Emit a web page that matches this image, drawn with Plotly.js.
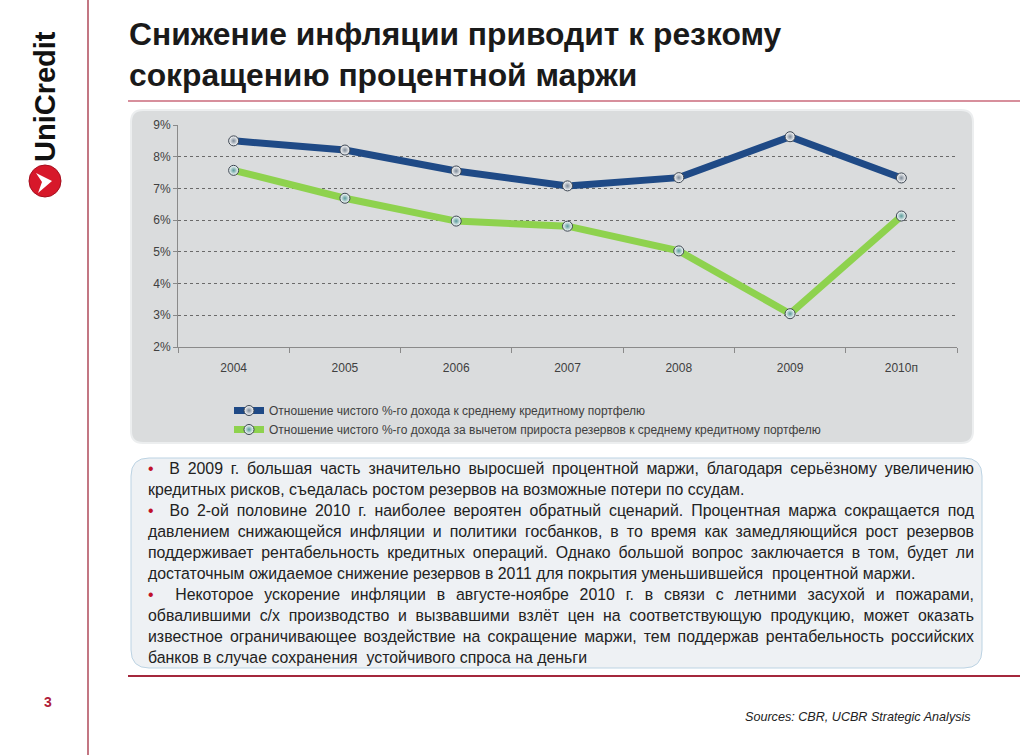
<!DOCTYPE html>
<html><head><meta charset="utf-8">
<script src="https://cdn.plot.ly/plotly-3.0.1.min.js"></script>
<style>
html,body{margin:0;padding:0;background:#fff;overflow:hidden;}
#wrap{position:relative;width:1020px;height:755px;overflow:hidden;}
#chart{position:absolute;left:0;top:0;width:1020px;height:755px;}
#notes{position:absolute;left:148px;top:458px;width:826px;font-family:'Liberation Sans Narrow','Liberation Sans',Arial,sans-serif;font-size:14px;line-height:21px;color:#222;}
#notes span{display:block;white-space:nowrap;}
#notes span.j{text-align:justify;text-align-last:justify;}
#notes b{color:#c0102a;font-weight:normal;}
#meas{position:absolute;left:0;top:0;visibility:hidden;white-space:nowrap;font-family:'Liberation Sans Narrow','Liberation Sans',Arial,sans-serif;font-size:100px;}
</style></head>
<body><div id="wrap"><div id="chart"></div>
<div id="notes">
<span class="j"><b>•</b>&nbsp; В 2009 г. большая часть значительно выросшей процентной маржи, благодаря серьёзному увеличению</span>
<span id="l2">кредитных рисков, съедалась ростом резервов на возможные потери по ссудам.</span>
<span class="j"><b>•</b>&nbsp; Во 2-ой половине 2010 г. наиболее вероятен обратный сценарий. Процентная маржа сокращается под</span>
<span class="j">давлением снижающейся инфляции и политики госбанков, в то время как замедляющийся рост резервов</span>
<span class="j">поддерживает рентабельность кредитных операций. Однако большой вопрос заключается в том, будет ли</span>
<span>достаточным ожидаемое снижение резервов в 2011 для покрытия уменьшившейся &nbsp;процентной маржи.</span>
<span class="j"><b>•</b>&nbsp; Некоторое ускорение инфляции в августе-ноябре 2010 г. в связи с летними засухой и пожарами,</span>
<span class="j">обвалившими с/х производство и вызвавшими взлёт цен на соответствующую продукцию, может оказать</span>
<span class="j" id="l9">известное ограничивающее воздействие на сокращение маржи, тем поддержав рентабельность российских</span>
<span>банков в случае сохранения &nbsp;устойчивого спроса на деньги</span>
</div>
<span id="meas"></span>
</div>
<script>
const years = ['2004','2005','2006','2007','2008','2009','2010п'];
const nimToLoans = [8.50, 8.21, 7.55, 7.08, 7.34, 8.63, 7.33];
const nimNetOfProvisions = [7.57, 6.69, 5.97, 5.81, 5.03, 3.05, 6.13];
const seriesNames = [
  'Отношение чистого %-го дохода к среднему кредитному портфелю',
  'Отношение чистого %-го дохода за вычетом прироста резервов к среднему кредитному портфелю'
];

// fit the note text so that its line breaks match the slide
(function fitNotes(){
  const m = document.getElementById('meas');
  m.textContent = document.getElementById('l2').textContent;
  const w2 = m.getBoundingClientRect().width;
  m.textContent = document.getElementById('l9').textContent;
  const w9 = m.getBoundingClientRect().width;
  const fs = Math.min(597 / w2, 815 / w9) * 100;
  document.getElementById('notes').style.fontSize = fs.toFixed(2) + 'px';
  m.textContent = '';
})();

const W = 1020, H = 755;
const px = x => x / W, py = y => 1 - y / H;
function rrect(x0, y0, x1, y1, r) {
  const rx = r / W, ry = r / H;
  const a = px(x0), b = px(x1), t = py(y0), u = py(y1);
  return `M${a+rx},${t} L${b-rx},${t} Q${b},${t} ${b},${t-ry} L${b},${u+ry} Q${b},${u} ${b-rx},${u} L${a+rx},${u} Q${a},${u} ${a},${u+ry} L${a},${t-ry} Q${a},${t} ${a+rx},${t} Z`;
}

const narrow = "'Liberation Sans Narrow', 'Arial Narrow', sans-serif";
const markerStyle = {symbol: 'circle', size: 10, color: '#ffffff', gradient: {type: 'radial', color: '#7d8a98'}, line: {color: '#3a4450', width: 1}};

const traces = [
  {x: years, y: nimToLoans, name: seriesNames[0], type: 'scatter', mode: 'lines+markers',
   line: {color: '#1f4a86', width: 7}, marker: markerStyle},
  {x: years, y: nimNetOfProvisions, name: seriesNames[1], type: 'scatter', mode: 'lines+markers',
   line: {color: '#8ed24e', width: 7}, marker: Object.assign({}, markerStyle, {gradient: {type: 'radial', color: '#5a9a9a'}})}
];

const layout = {
  width: W, height: H, margin: {l: 0, r: 0, t: 0, b: 0},
  paper_bgcolor: '#ffffff', plot_bgcolor: 'rgba(0,0,0,0)',
  showlegend: true,
  title: {text: 'Снижение инфляции приводит к резкому<br>сокращению процентной маржи',
    x: px(129), xanchor: 'left', xref: 'paper', y: py(45), yanchor: 'top', yref: 'paper',
    font: {family: "'Liberation Sans', Arial, sans-serif", size: 31.8, color: '#1a1a1a', weight: 'bold'}},
  xaxis: {domain: [px(178), px(957)], type: 'category', range: [-0.5, 6.5],
    showline: true, linecolor: '#8a8a8a', linewidth: 1, ticks: 'outside', tickson: 'boundaries',
    ticklen: 5, tickcolor: '#8a8a8a', showgrid: false, zeroline: false, fixedrange: true,
    ticklabelstandoff: 10,
    tickfont: {family: narrow, size: 12, color: '#404040'}},
  yaxis: {domain: [py(347), py(125)], range: [2, 9], dtick: 1, ticksuffix: '%',
    showline: true, linecolor: '#8a8a8a', linewidth: 1, ticks: 'outside', ticklen: 4, tickcolor: '#8a8a8a',
    showgrid: true, gridcolor: '#6a6a6a', griddash: 'dot', gridwidth: 1, zeroline: false, fixedrange: true,
    tickfont: {family: narrow, size: 12, color: '#404040'}},
  legend: {x: px(229), xanchor: 'left', y: py(396), yanchor: 'top', orientation: 'v',
    bgcolor: 'rgba(0,0,0,0)', itemwidth: 30, tracegroupgap: 0,
    font: {family: narrow, size: 12, color: '#404040'}},
  shapes: [
    {type: 'line', xref: 'paper', yref: 'paper', x0: px(88), x1: px(88), y0: 0, y1: 1, line: {color: '#9b1b30', width: 1.2}, layer: 'below'},
    {type: 'line', xref: 'paper', yref: 'paper', x0: px(128), x1: 1, y0: py(101), y1: py(101), line: {color: '#b0203a', width: 1.2}, layer: 'below'},
    {type: 'line', xref: 'paper', yref: 'paper', x0: px(128), x1: 1, y0: py(676), y1: py(676), line: {color: '#a4283c', width: 2}, layer: 'below'},
    {type: 'path', xref: 'paper', yref: 'paper', path: rrect(131, 110, 973, 443, 12), fillcolor: '#dadcdd', line: {color: '#eceeef', width: 2}, layer: 'below'},
    {type: 'path', xref: 'paper', yref: 'paper', path: rrect(131, 458, 982, 668, 18), fillcolor: '#eef1f4', line: {color: '#bcd3e3', width: 1}, layer: 'below'},
    {type: 'circle', xref: 'paper', yref: 'paper', x0: px(29), x1: px(61), y0: py(165), y1: py(197), fillcolor: '#d7182a', line: {color: '#a50f1e', width: 1}},
    {type: 'path', xref: 'paper', yref: 'paper', path: `M${px(36)},${py(173)} L${px(52)},${py(181)} L${px(38)},${py(193)} L${px(42)},${py(182)} Z`, fillcolor: '#ffffff', line: {width: 0}}
  ],
  annotations: [
    {text: 'UniCredit', textangle: -90, xref: 'paper', yref: 'paper', x: px(45), y: py(97), xanchor: 'center', yanchor: 'middle', showarrow: false,
     font: {family: narrow, size: 29, color: '#111111', weight: 'bold'}},
    {text: '<b>3</b>', xref: 'paper', yref: 'paper', x: px(42), y: py(712), showarrow: false, font: {family: "'Liberation Sans', Arial, sans-serif", size: 14, color: '#b0203a'}},
    {text: '<i>Sources: CBR, UCBR Strategic Analysis</i>', xref: 'paper', yref: 'paper', x: px(973), xanchor: 'right', y: py(726), showarrow: false,
     font: {family: narrow, size: 12.6, color: '#222222'}}
  ]
};

Plotly.newPlot('chart', traces, layout, {displayModeBar: false, staticPlot: true});
</script></body></html>
